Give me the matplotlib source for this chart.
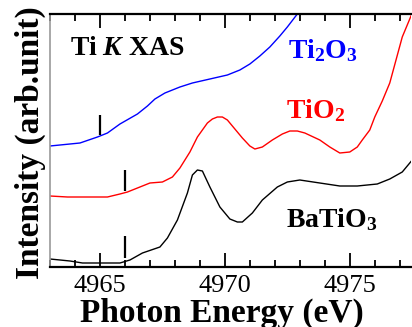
import matplotlib
matplotlib.use("Agg")
import matplotlib.pyplot as plt
from matplotlib.ticker import MultipleLocator

plt.rcParams['font.family'] = ['Liberation Serif', 'DejaVu Serif']
plt.rcParams['mathtext.fontset'] = 'custom'
plt.rcParams['mathtext.rm'] = 'Liberation Serif'
plt.rcParams['mathtext.bf'] = 'Liberation Serif:bold'
plt.rcParams['mathtext.it'] = 'Liberation Serif:italic'
plt.rcParams['mathtext.bfit'] = 'Liberation Serif:italic:bold'

# Ti2O3 spectrum (energy in eV, intensity in arb. units)
ti2o3_e = [4963.0, 4964.2, 4964.9, 4965.3, 4965.8, 4966.5, 4966.9, 4967.2,
           4967.6, 4968.2, 4968.7, 4969.4, 4970.1, 4970.6, 4971.0, 4971.4,
           4971.8, 4972.2, 4972.5, 4972.9, 4973.2]
ti2o3_i = [1.21, 1.24, 1.30, 1.34, 1.43, 1.53, 1.61, 1.68,
           1.74, 1.80, 1.84, 1.88, 1.92, 1.97, 2.03, 2.11,
           2.20, 2.31, 2.40, 2.53, 2.65]

# TiO2 spectrum
tio2_e = [4963.0, 4963.7, 4965.3, 4965.8, 4966.1, 4966.6, 4967.0, 4967.5,
          4967.9, 4968.2, 4968.6, 4968.9, 4969.3, 4969.5, 4969.7, 4969.9,
          4970.1, 4970.4, 4970.7, 4971.0, 4971.2, 4971.5, 4971.9, 4972.3,
          4972.6, 4972.9, 4973.2, 4973.8, 4974.2, 4974.6, 4975.0, 4975.3,
          4975.5, 4975.8, 4976.0, 4976.3, 4976.6, 4977.1, 4977.5]
tio2_i = [0.71, 0.70, 0.70, 0.73, 0.75, 0.80, 0.84, 0.85,
          0.90, 0.99, 1.15, 1.30, 1.44, 1.48, 1.50, 1.50,
          1.47, 1.38, 1.29, 1.21, 1.18, 1.20, 1.27, 1.33,
          1.36, 1.36, 1.34, 1.27, 1.20, 1.14, 1.15, 1.20,
          1.27, 1.37, 1.50, 1.66, 1.84, 2.30, 2.54]

# BaTiO3 spectrum
batio3_e = [4963.0, 4963.8, 4964.3, 4965.0, 4965.8, 4966.2, 4966.7, 4967.4,
            4967.7, 4968.1, 4968.5, 4968.7, 4968.9, 4969.1, 4969.4, 4969.8,
            4970.2, 4970.5, 4970.7, 4971.1, 4971.5, 4972.1, 4972.5, 4973.0,
            4973.8, 4974.6, 4975.3, 4976.1, 4976.6, 4977.1, 4977.5]
batio3_i = [0.08, 0.06, 0.04, 0.04, 0.04, 0.07, 0.14, 0.20,
            0.29, 0.47, 0.74, 0.92, 0.97, 0.96, 0.80, 0.60,
            0.48, 0.45, 0.45, 0.54, 0.67, 0.80, 0.85, 0.87,
            0.84, 0.81, 0.81, 0.83, 0.88, 0.95, 1.07]

# edge markers: energy, lower and upper intensity
edge_e = [4965.0, 4966.0, 4966.0]
edge_lo = [1.32, 0.76, 0.09]
edge_hi = [1.52, 0.97, 0.31]

fig = plt.figure(figsize=(4.12, 3.27), dpi=100)
ax = fig.add_axes([50 / 412, 1 - 267 / 327, 361 / 412, 253 / 327])

ax.plot(ti2o3_e, ti2o3_i, color='#0000ff', lw=1.0)
ax.plot(tio2_e, tio2_i, color='#ff0000', lw=1.0)
ax.plot(batio3_e, batio3_i, color='black', lw=1.0)
ax.vlines(edge_e, edge_lo, edge_hi, color='black', lw=1.6)

ax.set_xlim(4963, 4977.45)
ax.set_ylim(0, 2.53)

ax.xaxis.set_major_locator(MultipleLocator(5))
ax.xaxis.set_minor_locator(MultipleLocator(1))
ax.tick_params(axis='x', which='both', direction='in', top=True, width=1.3,
               labelsize=19, pad=6)
ax.tick_params(axis='x', which='major', length=10)
ax.tick_params(axis='x', which='minor', length=5)
ax.set_yticks([])

for s in ['top', 'bottom']:
    ax.spines[s].set_linewidth(1.6)
ax.spines['left'].set_color('#999999')
ax.spines['left'].set_linewidth(1.2)
ax.spines['right'].set_visible(False)

ax.set_xlabel('Photon Energy (eV)', fontsize=24, fontweight='bold', labelpad=0)
ax.xaxis.set_label_coords(0.475, -0.12)
ax.set_ylabel('Intensity (arb.unit)', fontsize=24, fontweight='bold')
ax.yaxis.set_label_coords(-0.01, 0.49)

ax.text(4963.8, 2.12, r'$\mathbf{Ti}\ \mathbfit{K}\ \mathbf{XAS}$', fontsize=20,
        va='baseline')
ax.text(4972.52, 2.09, r'$\mathbf{Ti_2O_3}$', fontsize=20, color='#0000ff',
        va='baseline')
ax.text(4972.44, 1.49, r'$\mathbf{TiO_2}$', fontsize=20, color='#ff0000',
        va='baseline')
ax.text(4972.44, 0.40, r'$\mathbf{BaTiO_3}$', fontsize=20, color='black',
        va='baseline')

fig.savefig('out.png', dpi=100)
